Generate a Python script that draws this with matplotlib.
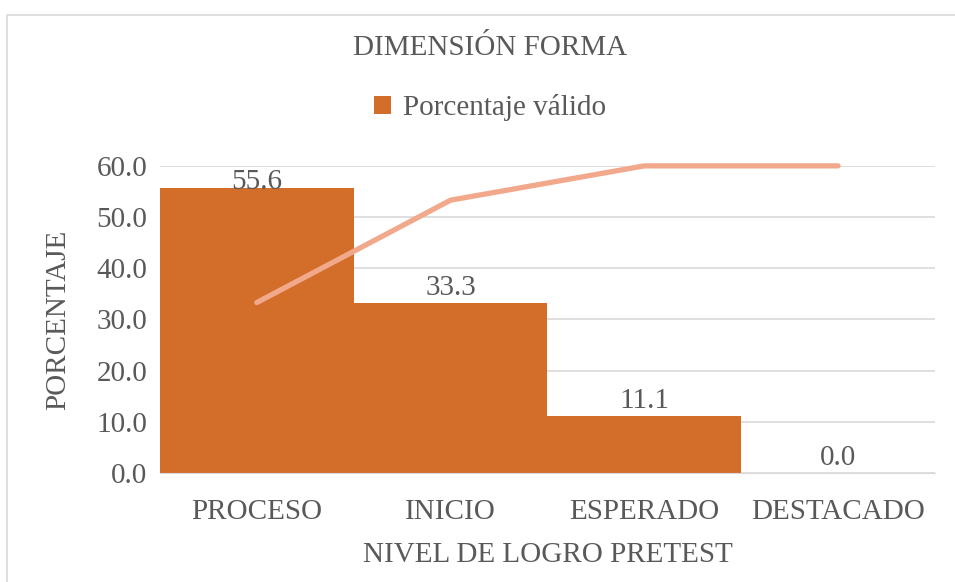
import numpy as np
import matplotlib.pyplot as plt
from matplotlib.patches import Rectangle

# data
categories = ['PROCESO', 'INICIO', 'ESPERADO', 'DESTACADO']
porcentaje = [55.6, 33.3, 11.1, 0.0]
linea = [33.3, 53.3, 60.0, 60.0]
yticks = [0, 10, 20, 30, 40, 50, 60]

plt.rcParams['font.family'] = ['Liberation Serif', 'DejaVu Serif']
gray = '#595959'
fs = 21

fig = plt.figure(figsize=(9.55, 5.82), dpi=100)
ax = fig.add_axes([0.1675, 0.1873, 0.8115, 0.5277])

# light border round the chart area
fig.patches.append(Rectangle((7 / 955, -0.1), 1.0, 1.1 - 15 / 582, transform=fig.transFigure,
                             fill=False, edgecolor='#D9D9D9', linewidth=1.2))

x = np.arange(len(categories))
bars = ax.bar(x, porcentaje, width=1.0, color='#D26D2A', label='Porcentaje válido', zorder=2)
ax.plot(x, linea, color='#F2A98B', linewidth=3.8, solid_capstyle='round', zorder=3, clip_on=False)

# labels sit above the bars but are kept inside the plot area
for xi, v in zip(x, porcentaje):
    ax.text(xi, min(v + 1.5, 60 - 4.6), f'{v:.1f}', ha='center', va='baseline',
            fontsize=fs, color=gray, zorder=4)

ax.set_xlim(-0.5, 3.5)
ax.set_ylim(0, 60)
ax.set_yticks(yticks)
ax.set_yticklabels([f'{t:.1f}' for t in yticks])
ax.set_xticks(x)
ax.set_xticklabels(categories)
ax.tick_params(axis='both', length=0, labelsize=fs, labelcolor=gray)
ax.tick_params(axis='x', pad=19)
ax.tick_params(axis='y', pad=9)
ax.grid(axis='y', color='#D9D9D9', linewidth=1.2, zorder=0)
ax.set_axisbelow(True)
for s in ['top', 'right', 'left']:
    ax.spines[s].set_visible(False)
ax.spines['bottom'].set_color('#D9D9D9')

ax.set_ylabel('PORCENTAJE', fontsize=fs, color=gray, labelpad=18)
ax.set_xlabel('NIVEL DE LOGRO PRETEST', fontsize=fs, color=gray, labelpad=12)

fig.text(0.513, 0.918, 'DIMENSIÓN FORMA', ha='center', va='center', fontsize=fs, color=gray)
fig.legend(handles=[bars], loc='center', bbox_to_anchor=(0.513, 0.815), frameon=False,
           fontsize=fs, labelcolor=gray, handlelength=0.6, handleheight=0.6, handletextpad=0.4)

fig.savefig('out.png', dpi=100)
